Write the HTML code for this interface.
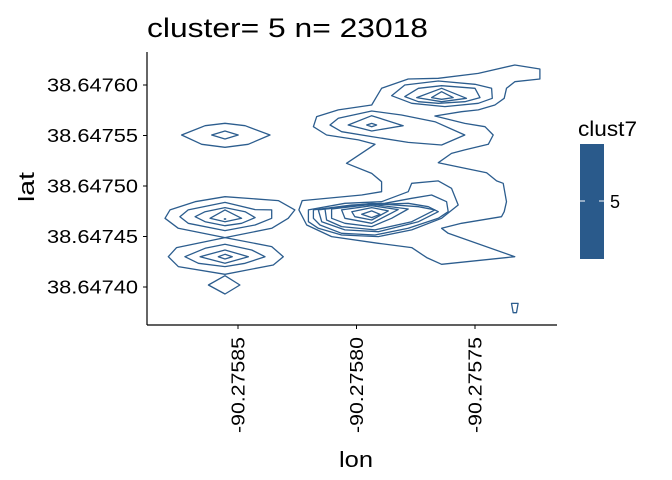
<!DOCTYPE html>
<html><head><meta charset="utf-8"><style>
body{margin:0;background:#fff;}
svg{display:block;font-family:"Liberation Sans",Arial,sans-serif;}
</style></head><body>
<svg id="chart" width="672" height="480" viewBox="0 0 672 480">
<text x="147" y="37" font-size="27" textLength="281" lengthAdjust="spacingAndGlyphs" fill="#000">cluster= 5 n= 23018</text>
<g id="plot"></g>
<line x1="147" y1="52" x2="147" y2="325" stroke="#000" stroke-width="1.2"/>
<line x1="147" y1="325" x2="557" y2="325" stroke="#000" stroke-width="1.2"/>
<g id="yticks"></g>
<g id="xticks"></g>
<text x="0" y="0" transform="translate(34,187) rotate(-90)" text-anchor="middle" font-size="22" textLength="30" lengthAdjust="spacingAndGlyphs">lat</text>
<text x="356" y="467" text-anchor="middle" font-size="22" textLength="34" lengthAdjust="spacingAndGlyphs">lon</text>
<g>
<text x="578" y="136" font-size="21" textLength="59" lengthAdjust="spacingAndGlyphs">clust7</text>
<rect x="580" y="144" width="24" height="115" fill="#2a5a8b"/>
<line x1="580" y1="201" x2="585" y2="201" stroke="#fff" stroke-width="1"/>
<line x1="599" y1="201" x2="604" y2="201" stroke="#fff" stroke-width="1"/>
<text x="610" y="208" font-size="18">5</text>
</g>
</svg>
<script>
// lon offsets in 1e-6 deg from -90.27590, lat offsets in 1e-6 deg from 38.64740
const xTickValues=[50,100,150];
const xTickLabels=["-90.27585","-90.27580","-90.27575"];
const yTickValues=[0,50,100,150,200];
const yTickLabels=["38.64740","38.64745","38.64750","38.64755","38.64760"];
const contours=[
[[110.6,196.7],[121.8,205.9],[134.5,206.6],[151.4,211.5],[166.8,219.8],[177.4,215.8],[177.4,205.9],[166.8,203.3],[163.3,196.7],[162.3,186.8],[158.4,180.2],[151.4,175.3],[144.3,173.6],[133.1,169.3],[145.7,162.0],[154.2,158.7],[157.7,150.5],[155.6,141.3],[145.7,135.7],[140.1,132.3],[134.5,123.1],[145.7,117.5],[154.9,113.2],[159.1,105],[161.9,102.7],[163.3,84.5],[162.3,74.6],[161.2,69.6],[144.3,63.1],[135.9,58.1],[138.7,53.2],[166.8,30.0],[135.9,22.5],[129.6,29.1],[123.3,39.0],[109.2,43.3],[89.5,49.9],[79,61.4],[75.7,76.3],[77.1,85.5],[102.2,91.1],[110.6,94.4],[110.6,104.3],[106.4,112.5],[95.8,122.5],[107.8,141.3],[100.8,145.6],[87.4,150.5],[81.8,158.7],[83.2,168.7],[92.3,175.3],[106.4,180.2],[108.5,188.4]],
[[114.8,189.4],[120.4,200],[134.5,204],[150,200.7],[157,196.7],[157.3,186.8],[151.4,181.9],[137.3,178.6],[123.3,181.9]],
[[120.4,188.5],[126.1,196.7],[135.9,199.3],[150,196.7],[152.1,187.5],[145.7,183.5],[134.5,181.9],[126.1,183.5]],
[[125.4,187.5],[135.9,196.7],[146.4,186.8],[135.9,183.5]],
[[131.7,187.5],[135.9,193.4],[140.8,187.5],[135.9,185.8]],
[[88.8,160.4],[92.3,167],[106.4,174.3],[119,170.3],[133.1,163.7],[145.7,150.5],[135.9,140.6],[121.8,143.2],[106.4,148.9],[93.7,153.8]],
[[96.5,160.4],[106.4,169.6],[119.7,159.7],[106.4,154.5]],
[[104.3,160.4],[106.4,162],[108.5,160.4],[106.4,158.7]],
[[79.7,76.3],[95.1,82.9],[110.6,84.5],[121.8,94.4],[123.3,102.7],[134.5,105],[140.1,97.7],[142.9,81.2],[135.9,68],[123.3,56.5],[109.2,49.9],[93.7,51.5],[83.9,58.1],[79.7,64.7]],
[[81.8,76.3],[98,81.2],[112,82.9],[123.3,87.8],[131.7,91.1],[138,84.5],[138.7,74.6],[134.5,68],[121.8,58.1],[107.8,51.5],[93.7,53.2],[84.6,61.4],[81.8,68]],
[[83.9,76.3],[102.2,81.2],[121.8,82.9],[130.3,79.5],[134.5,74.6],[126.1,64.7],[109.2,54.8],[95.1,56.5],[85.3,64.7]],
[[86.7,77.2],[106.4,82.9],[126.1,79.5],[133.1,76.3],[123.3,64.7],[107.8,56.5],[93.7,59.8],[87.4,66.3]],
[[89.5,77.2],[106.4,81.9],[121.8,77.2],[114.8,68],[106.4,59.8],[95.1,63.1],[89.5,68]],
[[93.7,76.3],[106.4,80.5],[117.6,76.6],[106.4,63.1],[95.1,68]],
[[98,74.6],[106.4,78.6],[113.4,75.3],[106.4,66.3],[99.3,69.6]],
[[102.2,72],[106.4,75.3],[109.9,72],[106.4,68.7]],
[[26.2,150.5],[36.1,159.7],[44.5,162.1],[53,159.7],[63.5,150.5],[54.3,141.3],[44.5,138.3],[34.7,141.3]],
[[38.9,150.5],[44.5,154.5],[50.1,150.5],[44.5,146.5]],
[[19.2,68],[21.3,76.3],[31.9,84.5],[44.5,89.4],[67,85.5],[74.0,76.3],[71.2,68],[64.2,58.1],[44.5,48.9],[24.8,58.1]],
[[25.5,69.6],[29,76.3],[44.5,83.8],[57.2,76.6],[64.2,76.3],[64.2,68],[57.2,61.4],[44.5,55.8],[29,63.1]],
[[31.9,69.6],[36.1,74.6],[44.5,78.6],[53,74.6],[57.2,68.7],[51.5,63.1],[44.5,60.7],[36.1,64.7]],
[[38.2,68],[44.5,76.3],[51.5,68],[44.5,64.7]],
[[44.2,67.3],[44.5,67.6],[44.8,67.3],[44.5,67.0]],
[[20.6,30],[24.1,39],[44.5,48.9],[64.2,40],[69.1,30],[64.9,21.8],[44.5,12.6],[24.8,20.2]],
[[27.6,30],[36.1,38.3],[44.5,42.3],[55.8,36.6],[61.4,30],[53,23.5],[44.5,20.2],[33.3,23.5]],
[[34,30],[44.5,36.6],[54.4,30],[44.5,23.5]],
[[41.7,30],[44.5,32.4],[47.6,30],[44.5,27.7]],
[[37.5,2],[44.5,11.2],[50.8,2],[44.5,-6.9]],
[[165.4,-16.2],[168.2,-16.2],[167.5,-25.4],[166.1,-25.4]]
];
const NS="http://www.w3.org/2000/svg";
function xScale(u){return 238+(u-50)*2.37;}
function yScale(v){return 287-v*1.01;}
const plot=document.getElementById('plot');
contours.forEach(function(c,i){
  const p=document.createElementNS(NS,'polygon');
  p.setAttribute('points',c.map(function(pt){return xScale(pt[0]).toFixed(1)+','+yScale(pt[1]).toFixed(1);}).join(' '));
  p.setAttribute('fill','none');p.setAttribute('stroke','#2c5d8e');p.setAttribute('stroke-width','1.3');p.setAttribute('stroke-linejoin','round');
  
  
  plot.appendChild(p);
});
const yt=document.getElementById('yticks');
yTickValues.forEach(function(v,i){
  const y=yScale(v);
  const l=document.createElementNS(NS,'line');
  l.setAttribute('x1',143);l.setAttribute('x2',147);l.setAttribute('y1',y);l.setAttribute('y2',y);l.setAttribute('stroke','#000');
  
  
  yt.appendChild(l);
  const t=document.createElementNS(NS,'text');
  t.setAttribute('x',138);t.setAttribute('y',y+6.5);t.setAttribute('text-anchor','end');t.setAttribute('font-size','18');
  t.setAttribute('textLength','91');t.setAttribute('lengthAdjust','spacingAndGlyphs');
  t.textContent=yTickLabels[i];
  
  
  yt.appendChild(t);
});
const xt=document.getElementById('xticks');
xTickValues.forEach(function(u,i){
  const x=xScale(u);
  const l=document.createElementNS(NS,'line');
  l.setAttribute('x1',x);l.setAttribute('x2',x);l.setAttribute('y1',325);l.setAttribute('y2',329);l.setAttribute('stroke','#000');
  
  
  xt.appendChild(l);
  const t=document.createElementNS(NS,'text');
  t.setAttribute('transform','translate('+(x+6.5)+',337) rotate(-90)');
  t.setAttribute('text-anchor','end');t.setAttribute('font-size','18');
  t.setAttribute('textLength','96');t.setAttribute('lengthAdjust','spacingAndGlyphs');
  t.textContent=xTickLabels[i];
  
  
  xt.appendChild(t);
});
</script>
</body></html>
